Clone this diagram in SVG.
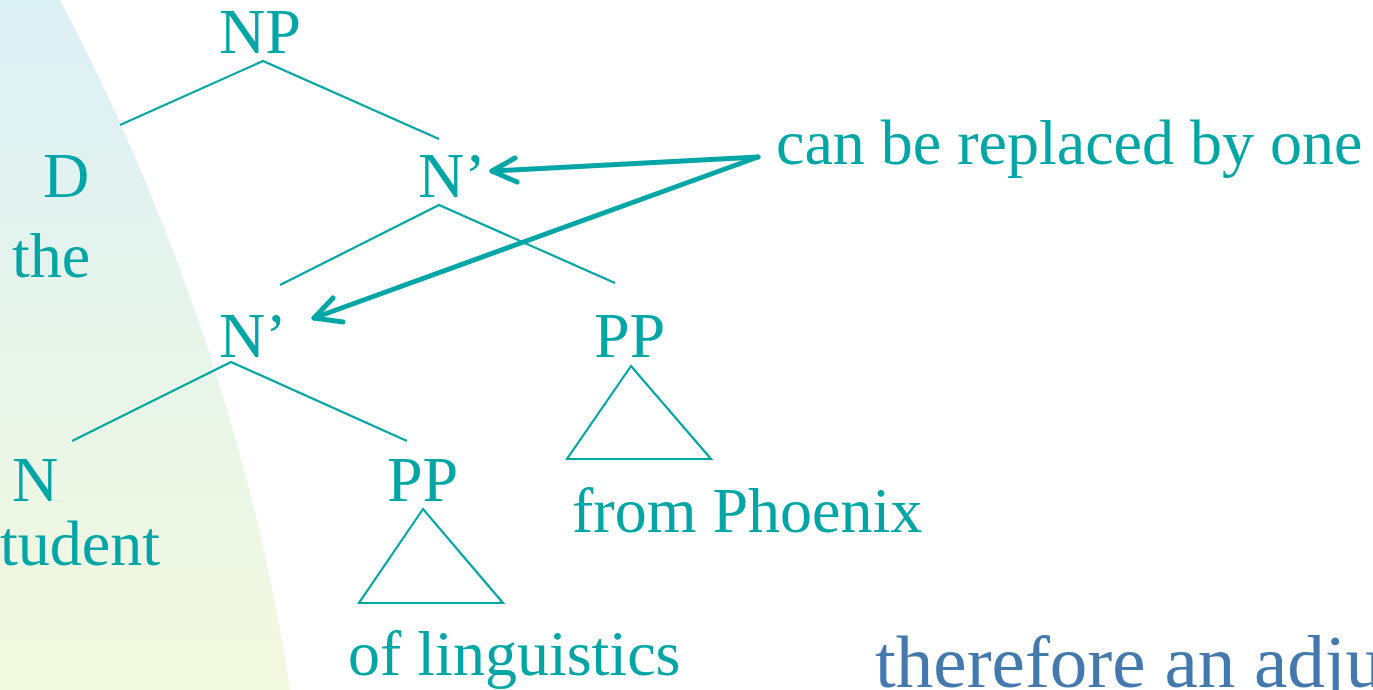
<svg xmlns="http://www.w3.org/2000/svg" width="1373" height="690" viewBox="0 0 1373 690">
<defs>
<linearGradient id="bg" x1="0" y1="0" x2="0" y2="1">
<stop offset="0" stop-color="#dbf0f5"/>
<stop offset="1" stop-color="#f3f9df"/>
</linearGradient>
<style>
.t{font-family:"Liberation Serif","Times New Roman",serif;font-size:64px;fill:#00a6a6}
.b{font-family:"Liberation Serif","Times New Roman",serif;font-size:75px;fill:#4479ae}
.e{stroke:#00a6a6;stroke-width:2.2;fill:none}
.a{stroke:#00a6a6;stroke-width:5;fill:none;stroke-linecap:round;stroke-linejoin:round}
</style>
</defs>
<rect width="1373" height="690" fill="#ffffff"/>
<path d="M0,0 L60,0 C150,170 250,420 290,690 L0,690 Z" fill="url(#bg)"/>
<g id="connectors">
<polyline class="e" points="120,125 263,61 439,139"/>
<polyline class="e" points="280,285 439,205 615,283"/>
<polyline class="e" points="72,441 231,362 407,441"/>
<polygon class="e" points="631,366 567,459 711,459"/>
<polygon class="e" points="423,509 359,603 503,603"/>
<polyline class="a" points="758,157 492,171"/>
<polyline class="a" points="515,158 492,171 517,182"/>
<polyline class="a" points="758,157 314,318"/>
<polyline class="a" points="333,298 314,318 343,322"/>
</g>
<g id="n-np"><text class="t" x="219" y="53">NP</text></g>
<g id="n-d"><text class="t" x="43" y="197">D</text></g>
<g id="n-the"><text class="t" x="12" y="277">the</text></g>
<g id="n-nbar1"><text class="t" x="418" y="197">N’</text></g>
<g id="n-label"><text class="t" x="776" y="164">can be replaced by one</text></g>
<g id="n-nbar2"><text class="t" x="219" y="357">N’</text></g>
<g id="n-pp1"><text class="t" x="594" y="357">PP</text></g>
<g id="n-n"><text class="t" x="12" y="501">N</text></g>
<g id="n-student"><text class="t" x="0" y="565">tudent</text></g>
<g id="n-pp2"><text class="t" x="387" y="501">PP</text></g>
<g id="n-phoenix"><text class="t" x="572" y="532">from Phoenix</text></g>
<g id="n-ling"><text class="t" x="348" y="675">of linguistics</text></g>
<g id="n-adj"><text class="b" x="875" y="687">therefore an adju</text></g>
</svg>
